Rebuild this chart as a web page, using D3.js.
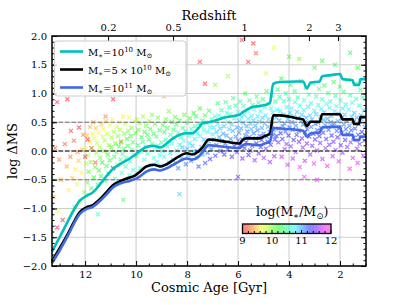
<!DOCTYPE html>
<html>
<head>
<meta charset="utf-8">
<script src="https://cdn.jsdelivr.net/npm/d3@7"></script>
<style>
body { margin: 0; background: white; }
text { font-family: "DejaVu Serif", serif; }
</style>
</head>
<body>
<script>

// cosmic age grid (Gyr) shared by the three tracks
var trackAges = [13.3, 13.0, 12.7, 12.45, 12.2, 11.95, 11.7, 11.4, 11.15, 10.9, 10.6, 10.25, 10.05, 9.85, 9.6, 9.3, 9.05, 8.8, 8.55, 8.0, 7.8, 7.55, 7.4, 7.15, 6.9, 6.45, 5.95, 5.8, 5.65, 5.4, 5.15, 4.95, 4.75, 4.62, 4.35, 3.7, 3.45, 3.3, 3.15, 2.8, 2.7, 2.35, 2.0, 1.9, 1.5, 1.45, 1.25, 1.2, 0.98];

var track1e10 = [-1.75, -1.50, -1.24, -1.03, -0.86, -0.78, -0.72, -0.57, -0.43, -0.31, -0.22, -0.13, -0.07, 0.0, 0.07, 0.09, 0.06, 0.13, 0.22, 0.31, 0.31, 0.40, 0.48, 0.50, 0.53, 0.59, 0.63, 0.68, 0.72, 0.77, 0.78, 0.80, 0.84, 1.17, 1.20, 1.21, 1.21, 1.09, 1.19, 1.21, 1.30, 1.32, 1.34, 1.25, 1.23, 1.15, 1.15, 1.25, 1.25];

var track5e10 = [-1.92, -1.69, -1.46, -1.24, -1.06, -0.98, -0.94, -0.83, -0.71, -0.59, -0.52, -0.46, -0.43, -0.36, -0.27, -0.24, -0.27, -0.23, -0.16, -0.04, -0.06, -0.01, 0.06, 0.20, 0.19, 0.16, 0.13, 0.20, 0.22, 0.22, 0.22, 0.26, 0.30, 0.62, 0.62, 0.57, 0.55, 0.43, 0.51, 0.51, 0.64, 0.64, 0.64, 0.55, 0.55, 0.47, 0.47, 0.59, 0.59];

var track1e11 = [-1.95, -1.73, -1.49, -1.27, -1.09, -1.01, -0.97, -0.86, -0.75, -0.63, -0.56, -0.52, -0.49, -0.44, -0.36, -0.32, -0.34, -0.30, -0.24, -0.13, -0.15, -0.10, -0.02, 0.10, 0.09, 0.07, 0.05, 0.10, 0.12, 0.11, 0.10, 0.13, 0.16, 0.40, 0.39, 0.37, 0.35, 0.25, 0.31, 0.32, 0.41, 0.42, 0.42, 0.28, 0.28, 0.19, 0.19, 0.25, 0.25];

var trackNames = ["1e10", "5e10", "1e11"];
var trackColors = ["#00bfbf", "#000000", "#4169e1"];

// individual galaxies: [cosmic age, log dMS, log M*]
var galaxies = [
[1.02,0.42,11.1],[1.07,0.71,10.8],[1.04,0.18,11.4],[1.11,0.93,10.5],[1.09,-0.08,11.7],[1.16,0.55,11.0],[1.14,0.33,11.3],[1.2,1.06,10.4],[1.18,0.62,10.9],[1.23,0.12,11.5],
[1.27,0.47,11.2],[1.25,0.79,10.7],[1.31,-0.21,11.8],[1.29,0.28,11.3],[1.34,0.58,11.0],[1.37,0.91,10.6],[1.33,0.04,11.6],[1.41,0.39,11.2],[1.39,1.17,10.3],[1.44,0.66,10.9],
[1.47,0.23,11.4],[1.45,0.51,11.1],[1.52,0.84,10.7],[1.5,-0.12,11.7],[1.56,0.36,11.2],[1.54,0.6,10.9],[1.6,0.97,10.5],[1.58,0.15,11.5],[1.63,0.44,11.1],[1.66,0.72,10.8],
[1.62,-0.31,11.9],[1.7,0.29,11.3],[1.68,1.24,10.2],[1.74,0.53,11.0],[1.72,0.07,11.6],[1.78,0.81,10.7],[1.77,0.38,11.2],[1.82,0.63,10.9],[1.8,0.19,11.4],[1.86,1.03,10.4],
[1.85,0.46,11.1],[1.9,-0.03,11.6],[1.89,0.74,10.8],[1.94,0.31,11.3],[1.93,0.57,11.0],[1.98,0.88,10.6],[1.97,0.1,11.5],[2.02,0.41,11.2],[2.01,1.12,10.3],[2.06,0.65,10.9],
[2.05,-0.18,11.8],[2.1,0.24,11.4],[2.09,0.52,11.0],[2.14,0.78,10.7],[2.13,0.35,11.2],[2.18,0.96,10.5],[2.17,0.02,11.6],[2.22,0.48,11.1],[2.21,0.69,10.8],[2.26,0.16,11.5],
[2.25,1.2,10.3],[2.3,0.43,11.1],[2.29,-0.09,11.7],[2.34,0.61,10.9],[2.33,0.27,11.3],[2.38,0.86,10.6],[2.37,0.5,11.1],[2.42,0.11,11.5],[2.41,0.75,10.8],[2.46,1.01,10.4],
[2.45,0.37,11.2],[2.5,-0.26,11.9],[2.49,0.56,11.0],[2.54,0.21,11.4],[2.53,0.82,10.7],[2.58,0.45,11.1],[2.57,0.05,11.6],[2.62,0.67,10.9],[2.61,1.14,10.3],[2.66,0.32,11.3],
[2.65,0.54,11.0],[2.7,0.9,10.6],[2.69,-0.14,11.7],[2.74,0.4,11.2],[2.73,0.73,10.8],[2.78,0.14,11.5],[2.77,0.59,10.9],[2.82,1.08,10.4],[2.81,0.26,11.3],[2.86,0.49,11.1],
[2.85,0.8,10.7],[2.9,0.01,11.6],[2.89,0.36,11.2],[2.94,0.64,10.9],[2.93,0.95,10.5],[2.98,0.2,11.4],[2.97,0.47,11.1],[3.02,-0.22,11.8],[3.01,0.7,10.8],[3.06,1.18,10.3],
[3.05,0.3,11.3],[3.1,0.55,11.0],[3.09,0.09,11.5],[3.14,0.83,10.7],[3.13,0.42,11.1],[3.18,0.62,10.9],[3.17,-0.06,11.6],[3.22,0.98,10.5],[3.21,0.25,11.4],[3.26,0.5,11.1],
[3.25,0.77,10.8],[3.3,0.13,11.5],[3.29,0.38,11.2],[3.34,1.1,10.4],[3.33,0.58,11.0],[3.38,-0.17,11.7],[3.37,0.33,11.3],[3.42,0.71,10.8],[3.41,0.88,10.6],[3.46,0.06,11.6],
[3.45,0.46,11.1],[3.5,0.63,10.9],[3.49,0.22,11.4],[3.54,1.22,10.2],[3.53,0.52,11.0],[3.58,-0.28,11.9],[3.57,0.79,10.7],[3.62,0.35,11.2],[3.61,0.16,11.5],[3.66,0.93,10.5],
[3.65,0.57,11.0],[3.7,0.28,11.3],[3.69,0.68,10.9],[3.74,-0.02,11.6],[3.73,0.44,11.1],[3.78,1.04,10.4],[3.77,0.85,10.7],[3.82,0.19,11.4],[3.81,0.6,10.9],[3.86,0.37,11.2],
[3.85,-0.13,11.7],[3.9,0.74,10.8],[3.89,0.5,11.1],[3.94,1.15,10.3],[3.93,0.08,11.5],[3.98,0.41,11.2],[3.97,0.66,10.9],[4.02,0.27,11.3],[4.01,0.9,10.6],[4.06,-0.24,11.8],
[4.05,0.55,11.0],[4.1,0.12,11.5],[4.09,0.76,10.8],[4.14,0.34,11.2],[4.13,1.0,10.5],[4.18,0.48,11.1],[4.17,0.03,11.6],[4.22,0.63,10.9],[4.21,0.87,10.6],[4.26,0.21,11.4],
[4.25,0.43,11.1],[4.3,1.26,10.2],[4.29,-0.1,11.7],[4.34,0.69,10.8],[4.33,0.31,11.3],[4.38,0.53,11.0],[4.37,0.94,10.5],[4.42,0.15,11.5],[4.41,0.39,11.2],[4.46,0.72,10.8],
[4.45,1.07,10.4],[4.49,0.26,11.3],
[4.52,0.58,10.9],[4.56,0.2,11.3],[4.54,0.86,10.5],[4.6,0.37,11.1],[4.58,-0.09,11.6],[4.64,0.67,10.8],[4.63,0.28,11.2],[4.68,0.97,10.4],[4.67,0.45,11.0],[4.72,0.11,11.4],
[4.71,0.74,10.7],[4.76,0.33,11.1],[4.75,-0.19,11.6],[4.8,0.55,10.9],[4.79,0.82,10.6],[4.84,0.16,11.3],[4.83,0.42,11.0],[4.88,1.04,10.3],[4.87,0.25,11.2],[4.92,0.62,10.8],
[4.91,0.04,11.5],[4.96,0.48,11.0],[4.95,0.77,10.6],[5.0,0.3,11.1],[4.99,-0.12,11.6],[5.04,0.58,10.9],[5.03,0.9,10.4],[5.08,0.19,11.3],[5.07,0.4,11.0],[5.12,0.69,10.7],
[5.11,0.07,11.4],[5.16,0.51,10.9],[5.15,0.26,11.2],[5.2,0.84,10.5],[5.19,-0.04,11.5],[5.24,0.36,11.1],[5.23,0.6,10.8],[5.28,0.13,11.3],[5.27,0.95,10.4],[5.32,0.44,11.0],
[5.31,0.22,11.2],[5.36,0.72,10.7],[5.35,-0.16,11.6],[5.4,0.53,10.9],[5.39,0.31,11.1],[5.44,0.09,11.4],[5.43,0.8,10.5],[5.48,0.38,11.0],[5.47,0.61,10.8],[5.52,0.01,11.4],
[5.51,0.47,10.9],[5.56,0.24,11.2],[5.55,0.88,10.4],[5.6,0.56,10.8],[5.59,-0.07,11.4],[5.64,0.34,11.1],[5.63,0.7,10.7],[5.68,0.15,11.3],[5.67,0.43,11.0],[5.72,1.0,10.3],
[5.71,0.27,11.1],[5.76,0.63,10.8],[5.75,0.05,11.3],[5.8,0.49,10.9],[5.79,0.78,10.6],[5.84,0.2,11.2],[5.83,-0.13,11.5],[5.88,0.39,11.0],[5.87,0.59,10.8],[5.92,0.1,11.3],
[5.91,0.86,10.5],[5.96,0.32,11.1],[5.95,0.52,10.9],[6.0,0.18,11.2],[5.99,0.68,10.7],[6.05,-0.02,11.4],[6.04,0.41,11.0],[6.1,0.79,10.5],[6.09,0.25,11.1],[6.15,0.57,10.8],
[6.14,0.08,11.3],[6.2,0.35,11.0],[6.19,0.92,10.4],[6.25,0.46,10.9],[6.24,-0.1,11.4],[6.3,0.64,10.7],[6.29,0.21,11.1],[6.35,0.38,10.9],[6.34,0.76,10.5],[6.4,0.03,11.3],
[6.39,0.5,10.8],[6.45,0.27,11.0],[6.44,0.66,10.6],[6.5,0.13,11.2],[6.49,0.85,10.4],[6.55,0.43,10.9],[6.54,-0.06,11.3],[6.6,0.58,10.7],[6.59,0.3,11.0],[6.65,0.71,10.5],
[6.64,0.17,11.1],[6.7,0.39,10.9],[6.69,0.0,11.3],[6.75,0.62,10.6],[6.74,0.24,11.0],[6.8,0.83,10.4],[6.79,0.47,10.8],[6.85,0.1,11.2],[6.84,0.33,10.9],[6.9,0.6,10.6],
[6.89,-0.08,11.3],[6.95,0.41,10.8],[6.94,0.2,11.0],
[7.0,0.29,10.8],[7.05,0.03,11.1],[7.04,0.55,10.5],[7.1,-0.14,11.3],[7.09,0.41,10.7],[7.15,0.17,11.0],[7.14,0.7,10.3],[7.2,-0.03,11.1],[7.19,0.33,10.8],[7.25,0.49,10.5],
[7.24,0.1,10.9],[7.3,0.62,10.3],[7.29,-0.21,11.2],[7.35,0.36,10.7],[7.34,0.2,10.9],[7.4,0.53,10.4],[7.39,-0.06,11.0],[7.45,0.44,10.6],[7.44,0.07,10.9],[7.5,0.74,10.2],
[7.49,0.26,10.7],[7.55,-0.27,11.2],[7.54,0.47,10.5],[7.6,0.0,11.0],[7.59,0.31,10.7],[7.65,0.6,10.3],[7.64,-0.11,11.0],[7.7,0.21,10.8],[7.69,0.43,10.5],[7.75,-0.01,10.9],
[7.74,0.66,10.2],[7.8,0.3,10.6],[7.79,0.09,10.9],[7.85,-0.17,11.1],[7.84,0.38,10.5],[7.9,0.14,10.8],[7.89,0.57,10.2],[7.95,-0.07,11.0],[7.94,0.27,10.6],[8.0,0.49,10.3],
[7.99,0.04,10.9],[8.06,0.34,10.5],[8.05,-0.23,11.1],[8.12,0.18,10.7],[8.11,0.63,10.1],[8.18,0.06,10.9],[8.17,0.4,10.4],[8.24,0.24,10.6],[8.23,-0.13,11.0],[8.3,0.53,10.2],
[8.29,0.11,10.8],[8.36,0.32,10.5],[8.35,-0.3,11.1],[8.42,0.46,10.3],[8.41,0.01,10.8],[8.48,0.22,10.6],[8.47,0.59,10.1],[8.54,-0.16,11.0],[8.53,0.37,10.4],[8.6,0.13,10.7],
[8.59,0.5,10.2],[8.66,-0.04,10.8],[8.65,0.28,10.5],[8.72,0.69,10.0],[8.71,-0.2,10.9],[8.78,0.4,10.3],[8.77,0.08,10.7],[8.84,0.19,10.5],[8.83,0.55,10.1],[8.9,-0.1,10.8],
[8.89,0.33,10.4],[8.96,0.0,10.7],[8.95,0.45,10.2],[9.02,-0.26,10.9],[9.01,0.15,10.5],[9.08,0.36,10.3],[9.07,-0.07,10.7],[9.14,0.58,10.1],[9.13,0.09,10.6],[9.2,0.25,10.4],
[9.19,-0.19,10.8],[9.26,0.47,10.1],[9.25,0.02,10.6],[9.32,0.3,10.3],[9.31,-0.12,10.7],[9.38,0.63,10.0],[9.37,0.12,10.5],[9.44,0.38,10.2],[9.43,-0.24,10.8],[9.5,0.2,10.4],
[9.49,0.52,10.0],[9.56,-0.05,10.6],[9.55,0.28,10.3],[9.62,0.07,10.5],[9.61,0.44,10.1],[9.68,-0.15,10.7],[9.67,0.33,10.2],[9.74,0.16,10.4],[9.73,0.6,9.9],[9.8,-0.02,10.5],
[9.79,0.24,10.3],[9.86,0.48,10.0],[9.85,-0.3,10.7],[9.92,0.1,10.4],[9.91,0.37,10.1],[9.98,-0.09,10.5],[9.97,0.55,9.9],
[10.03,0.31,10.1],[10.08,-0.07,10.5],[10.06,0.52,9.8],[10.13,0.15,10.3],[10.11,-0.33,10.7],[10.18,0.4,10.0],[10.16,0.02,10.4],[10.23,-0.18,10.6],[10.21,0.26,10.2],[10.28,0.58,9.7],
[10.26,-0.42,10.7],[10.33,0.09,10.3],[10.31,0.35,10.0],[10.38,-0.12,10.5],[10.36,0.21,10.2],[10.43,0.47,9.8],[10.41,-0.27,10.6],[10.48,0.04,10.3],[10.46,0.3,10.0],[10.53,-0.05,10.4],
[10.51,0.6,9.6],[10.58,0.17,10.1],[10.56,-0.38,10.6],[10.63,0.37,9.9],[10.61,-0.15,10.4],[10.68,0.08,10.2],[10.66,0.5,9.7],[10.73,-0.24,10.5],[10.71,0.26,10.0],[10.78,-0.02,10.3],
[10.76,0.42,9.8],[10.83,-0.48,10.6],[10.81,0.13,10.1],[10.88,0.33,9.9],[10.86,-0.1,10.3],[10.93,0.55,9.6],[10.91,-0.3,10.5],[10.98,0.06,10.1],[10.96,0.24,9.9],[11.03,-0.16,10.3],
[11.01,0.45,9.7],[11.08,-0.4,10.5],[11.06,0.1,10.0],[11.13,0.3,9.8],[11.11,-0.06,10.2],[11.18,0.52,9.5],[11.16,-0.26,10.3],[11.23,0.18,9.9],[11.21,-0.52,10.4],[11.28,0.38,9.6],
[11.26,0.0,10.0],[11.33,-0.2,10.2],[11.31,0.25,9.8],[11.38,-0.44,10.3],[11.36,0.46,9.5],[11.43,0.07,9.9],[11.41,-0.12,10.1],[11.48,0.32,9.6],[11.46,-0.34,10.2],[11.53,0.14,9.8],
[11.51,-0.58,10.3],[11.58,0.4,9.5],[11.56,-0.03,9.9],[11.63,0.22,9.7],[11.61,-0.28,10.1],[11.68,0.5,9.4],[11.66,-0.46,10.2],[11.73,0.05,9.8],[11.71,0.3,9.6],[11.78,-0.19,10.0],
[11.76,-0.65,10.3],[11.83,0.16,9.6],[11.81,0.42,9.4],[11.88,-0.08,9.9],[11.86,-0.36,10.1],[11.93,0.27,9.5],[11.91,-0.55,10.1],[11.98,0.03,9.7],[11.96,-0.22,9.9],
[10.3,-0.5,9.2],[10.9,-0.3,9.1],[11.6,-0.2,9.2],[11.2,0.6,9.3],[12.0,-0.1,9.1],[11.9,0.2,9.0],[11.75,0.05,9.2],[10.6,0.15,9.3],
[12.03,-0.72,10.0],[12.08,0.28,9.3],[12.14,-0.38,9.6],[12.12,0.02,9.4],[12.2,-0.88,9.9],[12.26,-0.17,9.5],[12.24,0.41,9.1],[12.32,-0.58,9.7],[12.3,-0.02,9.3],[12.38,-0.32,9.6],
[12.44,0.18,9.2],[12.42,-0.97,10.0],[12.5,-0.47,9.5],[12.58,-0.1,9.3],[12.56,0.35,9.1],[12.65,-0.68,9.6],[12.72,-0.27,9.4],[12.8,0.12,9.2],[12.88,-1.2,9.1],[12.95,-0.5,9.4],
[13.02,-0.15,9.3],[13.1,-1.33,9.0],[13.18,0.05,9.2],[13.25,-0.8,9.4],[13.05,-1.05,9.7],
[13.1,0.85,9.0],[12.7,0.9,9.1],[10.9,0.9,9.0],[9.3,1.0,9.5],[8.9,0.95,9.4],[5.85,1.93,9.0],[5.4,1.87,9.1],[5.3,1.7,9.2],[5.6,1.55,9.0],[4.6,1.8,9.7],
[4.0,1.64,10.1],[3.6,1.6,10.0],[2.7,1.57,10.2],[1.6,1.71,10.3],[7.5,1.55,9.0],[7.3,1.17,9.1],[6.4,1.3,9.9],[6.9,1.15,10.0],[2.2,1.5,10.3],[3.0,1.45,10.2],
[4.9,1.35,9.8],[1.3,1.45,10.2],[8.3,-0.75,10.9],[6.0,-0.45,11.5],[3.4,-0.45,11.9],[2.9,-0.5,11.8],[10.5,-0.85,10.3],[11.5,-1.1,10.6]
];

// axis ticks
var ageTicks = [12, 10, 8, 6, 4, 2];
var dmsTicks = [-2, -1.5, -1, -0.5, 0, 0.5, 1, 1.5, 2];
var redshiftLabels = ["0.2", "0.5", "1", "2", "3"];
var redshiftAges = [11.1, 8.55, 5.76, 3.22, 2.08];
var refLevels = [0.5, 0, -0.5];
var massTicks = [9, 10, 11, 12];

var width = 407, height = 305;
var svg = d3.select("body").append("svg").attr("width", width).attr("height", height).style("background", "white");

var x = d3.scaleLinear().domain([13.3, 0.98]).range([52, 366]);
var y = d3.scaleLinear().domain([-2, 2]).range([266, 36]);

// gist_rainbow
var massColor = d3.scaleLinear()
  .domain([9, 9.09, 9.645, 10.2, 10.758, 11.31, 11.862, 12])
  .range(["#ff0029", "#ff0000", "#ffff00", "#00ff00", "#00ffff", "#0000ff", "#ff00ff", "#ff00bf"])
  .clamp(true);

// grid
svg.append("g").selectAll("line").data(ageTicks).enter().append("line")
  .attr("x1", d => x(d)).attr("x2", d => x(d)).attr("y1", 36).attr("y2", 266)
  .attr("stroke", "#cfcfcf").attr("stroke-width", 1.1);
svg.append("g").selectAll("line").data(dmsTicks).enter().append("line")
  .attr("x1", 52).attr("x2", 366).attr("y1", d => y(d)).attr("y2", d => y(d))
  .attr("stroke", "#cfcfcf").attr("stroke-width", 1.1);

// galaxies
svg.append("g").selectAll("path").data(galaxies).enter().append("path")
  .attr("transform", d => "translate(" + x(d[0]) + "," + y(d[1]) + ")")
  .attr("d", "M-2,-2L2,2M-2,2L2,-2")
  .attr("stroke", d => massColor(d[2]))
  .attr("stroke-width", 1.3)
  .attr("opacity", 0.5)
  .attr("fill", "none");

// reference levels
svg.append("g").selectAll("line").data(refLevels).enter().append("line")
  .attr("x1", 52).attr("x2", 366).attr("y1", d => y(d)).attr("y2", d => y(d))
  .attr("stroke", d => d === 0 ? "#000" : "#777")
  .attr("stroke-width", 1.2)
  .attr("stroke-dasharray", "4.5,2");

// tracks
var line = d3.line()
  .x(function(d){ return x(d[0]); })
  .y(function(d){ return y(d[1]); })
  .curve(d3.curveMonotoneX);

[track1e10, track5e10, track1e11].forEach(function(vals, i) {
  svg.append("path")
    .datum(trackAges.map((a, j) => [a, vals[j]]))
    .attr("d", line)
    .attr("fill", "none")
    .attr("stroke", trackColors[i])
    .attr("stroke-width", 2.6)
    .attr("stroke-linejoin", "round");
});

// axes
function styleAxis(g) {
  g.select(".domain").remove();
  g.attr("font-family", "DejaVu Serif").attr("font-size", 10);
  g.selectAll("line").attr("stroke", "#000");
  g.selectAll("text").attr("fill", "#000");
}

svg.append("g").attr("transform", "translate(0,266)")
  .call(d3.axisBottom(x).tickValues(ageTicks).tickSizeInner(-5).tickSizeOuter(0).tickPadding(5))
  .call(styleAxis);
svg.append("g").attr("transform", "translate(0,266)")
  .call(d3.axisBottom(x).tickValues(d3.range(1, 13.3, 0.5).filter(d => d % 2 !== 0)).tickSizeInner(-2.5).tickSizeOuter(0).tickFormat(""))
  .call(styleAxis);

svg.append("g").attr("transform", "translate(0,36)")
  .call(d3.axisTop(x).tickValues(redshiftAges).tickSizeInner(-5).tickSizeOuter(0).tickPadding(5)
    .tickFormat((d, i) => redshiftLabels[i]))
  .call(styleAxis);

svg.append("g").attr("transform", "translate(52,0)")
  .call(d3.axisLeft(y).tickValues(dmsTicks).tickSizeInner(-5).tickSizeOuter(0).tickPadding(5).tickFormat(d3.format(".1f")))
  .call(styleAxis);
svg.append("g").attr("transform", "translate(52,0)")
  .call(d3.axisLeft(y).tickValues(d3.range(-19, 20).map(d => d / 10)).tickSizeInner(-2.5).tickSizeOuter(0).tickFormat(""))
  .call(styleAxis);
svg.append("g").attr("transform", "translate(366,0)")
  .call(d3.axisRight(y).tickValues(dmsTicks).tickSizeInner(-5).tickSizeOuter(0).tickFormat(""))
  .call(styleAxis);
svg.append("g").attr("transform", "translate(366,0)")
  .call(d3.axisRight(y).tickValues(d3.range(-19, 20).map(d => d / 10)).tickSizeInner(-2.5).tickSizeOuter(0).tickFormat(""))
  .call(styleAxis);

// frame
svg.append("rect").attr("x", 52).attr("y", 36).attr("width", 314).attr("height", 230)
  .attr("fill", "none").attr("stroke", "#000").attr("stroke-width", 1.5);

// labels
svg.append("text").attr("x", 209).attr("y", 20).attr("text-anchor", "middle").attr("font-size", 13).text("Redshift");
svg.append("text").attr("x", 209).attr("y", 292).attr("text-anchor", "middle").attr("font-size", 13).text("Cosmic Age [Gyr]");
svg.append("text").attr("transform", "translate(16.5,151) rotate(-90)").attr("text-anchor", "middle").attr("font-size", 13).text("log \u0394MS");

// math-ish text with sub/superscripts
function mathText(sel, parts, size) {
  var shift = 0;
  parts.forEach(function(p) {
    var target = p[1] === "sub" ? size * 0.25 : p[1] === "sup" ? -size * 0.38 : 0;
    sel.append("tspan")
      .attr("dy", target - shift)
      .attr("font-size", p[1] ? size * 0.7 : size)
      .text(p[0]);
    shift = target;
  });
}

// legend
var legend = svg.append("g");
legend.append("rect").attr("x", 54.5).attr("y", 41).attr("width", 131.5).attr("height", 55).attr("rx", 3)
  .attr("fill", "white").attr("fill-opacity", 0.8).attr("stroke", "#cccccc");
var legendParts = [
  [["M"], ["\u2217", "sub"], ["=10"], ["10", "sup"], [" M"], ["\u2299", "sub"]],
  [["M"], ["\u2217", "sub"], ["=5\u2009\u00d7\u200910"], ["10", "sup"], [" M"], ["\u2299", "sub"]],
  [["M"], ["\u2217", "sub"], ["=10"], ["11", "sup"], [" M"], ["\u2299", "sub"]]
];
trackNames.forEach(function(n, i) {
  var ly = 51.5 + i * 18;
  legend.append("line").attr("x1", 60).attr("x2", 83).attr("y1", ly).attr("y2", ly)
    .attr("stroke", trackColors[i]).attr("stroke-width", 2.6);
  var t = legend.append("text").attr("x", 88).attr("y", ly + 4).attr("font-size", 10);
  mathText(t, legendParts[i], 10);
});

// colorbar
var cb = { x0: 242.5, x1: 331, y0: 224, h: 9.5 };
var cbScale = d3.scaleLinear().domain([9, 12]).range([cb.x0, cb.x1]);
var grad = svg.append("defs").append("linearGradient").attr("id", "massGrad");
d3.range(0, 1.0001, 0.05).forEach(function(t) {
  grad.append("stop").attr("offset", t).attr("stop-color", massColor(9 + 3 * t));
});
svg.append("rect").attr("x", cb.x0).attr("y", cb.y0).attr("width", cb.x1 - cb.x0).attr("height", cb.h)
  .attr("fill", "url(#massGrad)").attr("fill-opacity", 0.5);
svg.append("g").selectAll("line").data(d3.range(9, 12.01, 0.2)).enter().append("line")
  .attr("x1", d => cbScale(d)).attr("x2", d => cbScale(d))
  .attr("y1", cb.y0 + cb.h).attr("y2", d => cb.y0 + cb.h - (Math.abs(d - Math.round(d)) < 1e-6 ? 3.5 : 2.5))
  .attr("stroke", "#000").attr("stroke-width", 1);
svg.append("rect").attr("x", cb.x0).attr("y", cb.y0).attr("width", cb.x1 - cb.x0).attr("height", cb.h)
  .attr("fill", "none").attr("stroke", "#000").attr("stroke-width", 1.3);
svg.append("g").selectAll("text").data(massTicks).enter().append("text")
  .attr("x", d => cbScale(d)).attr("y", 244).attr("text-anchor", "middle").attr("font-size", 10)
  .text(d => d);
var cbl = svg.append("text").attr("x", 256).attr("y", 216).attr("font-size", 12.5);
mathText(cbl, [["log(M"], ["\u2217", "sub"], ["/M"], ["\u2299", "sub"], [")"]], 12.5);

</script>
</body>
</html>
